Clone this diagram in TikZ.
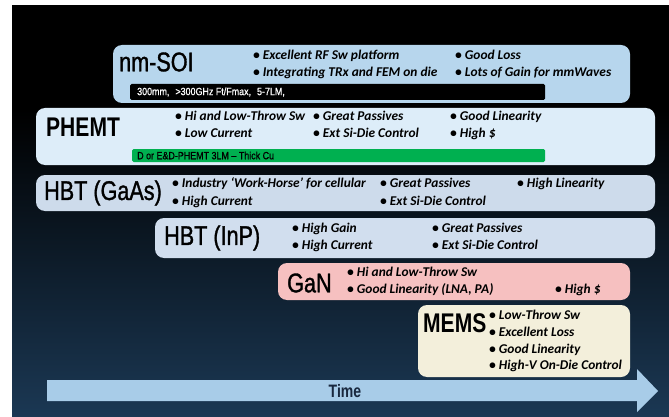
\documentclass[tikz,border=0pt]{standalone}
\usepackage{fontspec}
\setmainfont{Carlito}
\newfontfamily\titlefont[FakeStretch=0.8, FakeBold=1.2]{Liberation Sans}
\newfontfamily\heavyfont[FakeStretch=0.78]{Liberation Sans Bold}
\newfontfamily\stripfont[FakeStretch=0.85, FakeBold=0.8]{Liberation Sans}
\definecolor{soiblue}{RGB}{183,214,237}
\definecolor{phemtblue}{RGB}{221,237,249}
\definecolor{gaasblue}{RGB}{205,219,235}
\definecolor{inpblue}{RGB}{209,222,238}
\definecolor{ganpink}{RGB}{246,192,192}
\definecolor{memscream}{RGB}{243,239,219}
\definecolor{stripgreen}{RGB}{0,176,80}
\definecolor{timeblue}{RGB}{168,204,232}
\definecolor{bgnavy}{RGB}{27,56,84}
\definecolor{timeink}{RGB}{25,40,62}

\begin{document}
\begin{tikzpicture}[x=1pt,y=-1pt]
\tikzset{techname/.style={anchor=west, inner sep=0pt, font=\titlefont\fontsize{27}{27}\selectfont},
boldname/.style={techname, font=\heavyfont\fontsize{27}{27}\selectfont},
feat/.style={anchor=west, inner sep=0pt, text height=9pt, text depth=2.5pt, font=\bfseries\itshape\fontsize{13.4}{15}\selectfont},
striptext/.style={anchor=west, inner sep=0pt, font=\stripfont\fontsize{10.5}{11}\selectfont}}
\useasboundingbox (0,0) rectangle (669,417);
\fill[white] (0,0) rectangle (669,417);
\fill[black] (12,5) rectangle (669,417);
\shade[top color=black, bottom color=bgnavy] (12,110) rectangle (669,417);
% nm-SOI
\fill[soiblue, rounded corners=9pt] (113,45) rectangle (630,103);
\node[techname] (soi) at (119,62) {nm-SOI};
\node[feat] (soiA) at (253,56.5) {• Excellent RF Sw platform};
\node[feat] (soiB) at (253,73) {• Integrating TRx and FEM on die};
\node[feat] (soiC) at (455,56.5) {• Good Loss};
\node[feat] (soiD) at (455,73) {• Lots of Gain for mmWaves};
\fill[black, rounded corners=1.5pt] (130,84) rectangle (545,100);
\node[striptext, text=white] (soistrip) at (137,92) {300mm,\hspace{6pt}>300GHz Ft/Fmax,\hspace{6pt}5-7LM,};
% PHEMT
\fill[phemtblue, rounded corners=9pt] (36,108) rectangle (655,165);
\node[boldname] (phemt) at (46,127) {PHEMT};
\node[feat] (phemtA) at (175,117.5) {• Hi and Low-Throw Sw};
\node[feat] (phemtB) at (175,134) {• Low Current};
\node[feat] (phemtC) at (313,117.5) {• Great Passives};
\node[feat] (phemtD) at (313,134) {• Ext Si-Die Control};
\node[feat] (phemtE) at (450,117.5) {• Good Linearity};
\node[feat] (phemtF) at (450,134) {• High \$};
\fill[stripgreen, rounded corners=1.5pt] (132,149) rectangle (545,162);
\node[striptext] (phemtstrip) at (137,155.5) {D or E\&D-PHEMT 3LM – Thick Cu};
% HBT (GaAs)
\fill[gaasblue, rounded corners=9pt] (36,175) rectangle (655,211);
\node[techname] (gaas) at (44,193) {HBT (GaAs)};
\node[feat] (gaasA) at (172,184) {• Industry ‘Work-Horse’ for cellular};
\node[feat] (gaasB) at (172,202) {• High Current};
\node[feat] (gaasC) at (380,184) {• Great Passives};
\node[feat] (gaasD) at (380,202) {• Ext Si-Die Control};
\node[feat] (gaasE) at (517,184) {• High Linearity};
% HBT (InP)
\fill[inpblue, rounded corners=9pt] (155,218) rectangle (655,258);
\node[techname] (inp) at (164,238) {HBT (InP)};
\node[feat] (inpA) at (292,229) {• High Gain};
\node[feat] (inpB) at (292,246) {• High Current};
\node[feat] (inpC) at (432,229) {• Great Passives};
\node[feat] (inpD) at (432,246) {• Ext Si-Die Control};
% GaN
\fill[ganpink, rounded corners=9pt] (278,263) rectangle (630,300);
\node[techname] (gan) at (287,283) {GaN};
\node[feat] (ganA) at (347,273.5) {• Hi and Low-Throw Sw};
\node[feat] (ganB) at (347,290.5) {• Good Linearity (LNA, PA)};
\node[feat] (ganC) at (555,290.5) {• High \$};
% MEMS
\fill[memscream, rounded corners=9pt] (418,305) rectangle (630,377);
\node[boldname] (mems) at (423,323) {MEMS};
\node[feat] (memsA) at (489,316) {• Low-Throw Sw};
\node[feat] (memsB) at (489,333.5) {• Excellent Loss};
\node[feat] (memsC) at (489,350) {• Good Linearity};
\node[feat] (memsD) at (489,366.5) {• High-V On-Die Control};
% time arrow
\fill[timeblue] (47,380) -- (637,380) -- (637,369) -- (658,391) -- (637,412) -- (637,401) -- (47,401) -- cycle;
\node[font=\heavyfont\fontsize{18}{18}\selectfont, text=timeink] (time) at (345,391) {Time};
\end{tikzpicture}
\end{document}
